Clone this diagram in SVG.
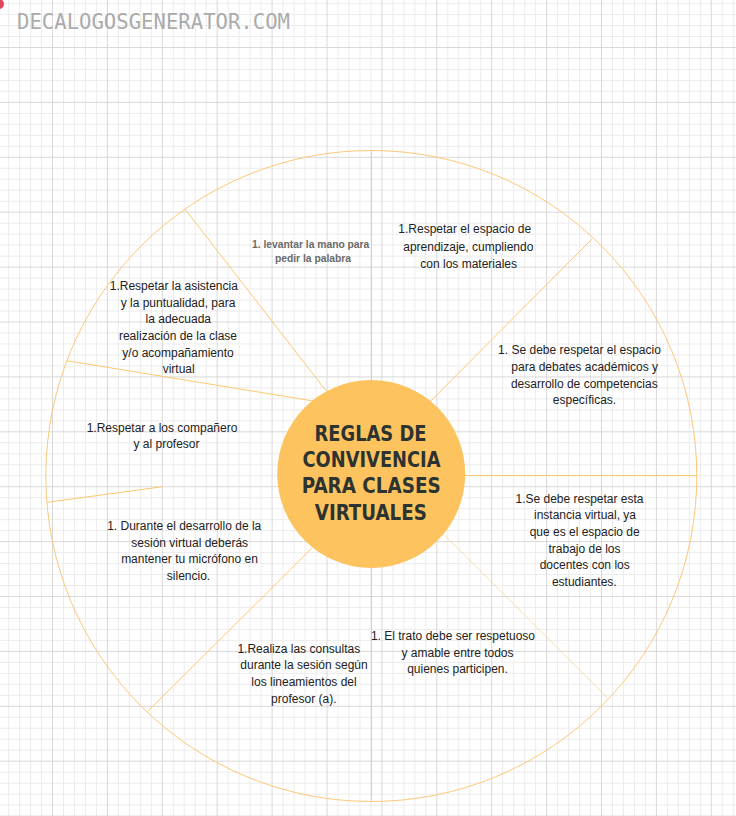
<svg xmlns="http://www.w3.org/2000/svg" width="736" height="816" viewBox="0 0 736 816">
  <defs>
    <pattern id="grid" patternUnits="userSpaceOnUse" x="52" y="47" width="54.9" height="54.9">
      <path d="M11.48 0V54.9M22.46 0V54.9M33.44 0V54.9M44.42 0V54.9M0 11.48H54.9M0 22.46H54.9M0 33.44H54.9M0 44.42H54.9" stroke="#ececec" stroke-width="1" shape-rendering="crispEdges"/>
      <path d="M0.5 0V54.9M0 0.5H54.9" stroke="#d8d8d8" stroke-width="1" shape-rendering="crispEdges"/>
    </pattern>
    <style>
      .rule { font-family: "Liberation Sans", Arial, sans-serif; font-size: 12px; fill: #222222; text-anchor: middle; }
      .muted { font-family: "Liberation Sans", Arial, sans-serif; font-size: 10.3px; font-weight: bold; fill: #6a6a6a; }
      .title { font-family: "DejaVu Sans Condensed", "DejaVu Sans", sans-serif; font-size: 21px; font-weight: bold; fill: #2d3330; text-anchor: middle; }
      .brand { font-family: "DejaVu Sans Mono", "Liberation Mono", monospace; font-size: 20.5px; fill: #ababab; }
      .spoke { stroke: #fcc872; stroke-width: 1; fill: none; }
      .spoke-faint { stroke: #fcd08a; stroke-width: 0.7; fill: none; }
    </style>
  </defs>

  <!-- paper background with square grid -->
  <rect width="736" height="816" fill="#ffffff"/>
  <rect width="736" height="816" fill="url(#grid)"/>

  <!-- site header -->
  <circle cx="-1" cy="4" r="5" fill="#e2445c"/>
  <text class="brand" x="17" y="29" textLength="273" lengthAdjust="spacingAndGlyphs">DECALOGOSGENERATOR.COM</text>

  <!-- outer wheel -->
  <circle id="wheel" cx="371.3" cy="476" r="325.5" fill="none" stroke="#fdc878" stroke-width="1"/>

  <!-- dividing spokes -->
  <g id="connectors">
    <path class="spoke" d="M371.5 150.5V381"/>
    <path class="spoke" d="M185 209L326.7 391.7"/>
    <path class="spoke" d="M66.7 360.7L313.3 401"/>
    <path class="spoke" d="M47.3 502.3L162.7 486.7"/>
    <path class="spoke" d="M148.3 710.7L311.7 548.3"/>
    <path class="spoke-faint" d="M444.3 535L607.3 697.7"/>
    <path class="spoke" d="M465 475.5H696.8"/>
    <path class="spoke" d="M591.7 239.3L430 401.7"/>
    <path class="spoke" d="M371.5 568V801.5"/>
  </g>

  <!-- hub -->
  <g id="hub">
    <circle cx="371.2" cy="474" r="94" fill="#fdc35f"/>
    <text class="title" x="370.5" y="441" textLength="112" lengthAdjust="spacingAndGlyphs">REGLAS DE</text>
    <text class="title" x="371.5" y="467.3" textLength="138" lengthAdjust="spacingAndGlyphs">CONVIVENCIA</text>
    <text class="title" x="371.3" y="493.3" textLength="139" lengthAdjust="spacingAndGlyphs">PARA CLASES</text>
    <text class="title" x="370.8" y="520" textLength="112" lengthAdjust="spacingAndGlyphs">VIRTUALES</text>
  </g>

  <!-- sector rules -->
  <g id="rule-mano">
    <text class="muted" x="252" y="248.3">1. levantar  la mano para</text>
    <text class="muted" x="313" y="261.7" text-anchor="middle">pedir la palabra</text>
  </g>

  <g id="rule-espacio">
    <text class="rule" x="464.7" y="233.3">1.Respetar el espacio de</text>
    <text class="rule" x="468.3" y="251">aprendizaje, cumpliendo</text>
    <text class="rule" x="468.7" y="267.7">con los materiales</text>
  </g>

  <g id="rule-asistencia">
    <text class="rule" x="173.8" y="290">1.Respetar la asistencia</text>
    <text class="rule" x="178" y="306.7">y la puntualidad, para</text>
    <text class="rule" x="178.3" y="323.3">la adecuada</text>
    <text class="rule" x="178" y="340">realización de la clase</text>
    <text class="rule" x="178" y="356.7">y/o acompañamiento</text>
    <text class="rule" x="178.7" y="373.3">virtual</text>
  </g>

  <g id="rule-debates">
    <text class="rule" x="579.5" y="354.3">1. Se debe respetar el espacio</text>
    <text class="rule" x="584.7" y="371">para debates académicos y</text>
    <text class="rule" x="584.3" y="387.7">desarrollo de competencias</text>
    <text class="rule" x="584.5" y="404.3">específicas.</text>
  </g>

  <g id="rule-companeros">
    <text class="rule" x="162" y="431.7">1.Respetar a los compañero</text>
    <text class="rule" x="166.5" y="448.3">y al profesor</text>
  </g>

  <g id="rule-instancia">
    <text class="rule" x="579.5" y="502.7">1.Se debe respetar esta</text>
    <text class="rule" x="585" y="519.3">instancia virtual, ya</text>
    <text class="rule" x="584.7" y="536">que es el espacio de</text>
    <text class="rule" x="584.5" y="552.7">trabajo de los</text>
    <text class="rule" x="584.7" y="569.3">docentes con los</text>
    <text class="rule" x="584.3" y="586">estudiantes.</text>
  </g>

  <g id="rule-microfono">
    <text class="rule" x="184.2" y="530">1. Durante el desarrollo de la</text>
    <text class="rule" x="189.7" y="546.7">sesión virtual deberás</text>
    <text class="rule" x="189.5" y="563.3">mantener tu micrófono en</text>
    <text class="rule" x="188.5" y="580">silencio.</text>
  </g>

  <g id="rule-trato">
    <text class="rule" x="453" y="640">1. El trato debe ser respetuoso</text>
    <text class="rule" x="457.5" y="657.3">y amable entre todos</text>
    <text class="rule" x="457.5" y="673.3">quienes participen.</text>
  </g>

  <g id="rule-consultas">
    <text class="rule" x="298.8" y="653.3">1.Realiza las consultas</text>
    <text class="rule" x="304" y="669.3">durante la sesión según</text>
    <text class="rule" x="304" y="686">los lineamientos del</text>
    <text class="rule" x="303.8" y="702.7">profesor (a).</text>
  </g>
</svg>
